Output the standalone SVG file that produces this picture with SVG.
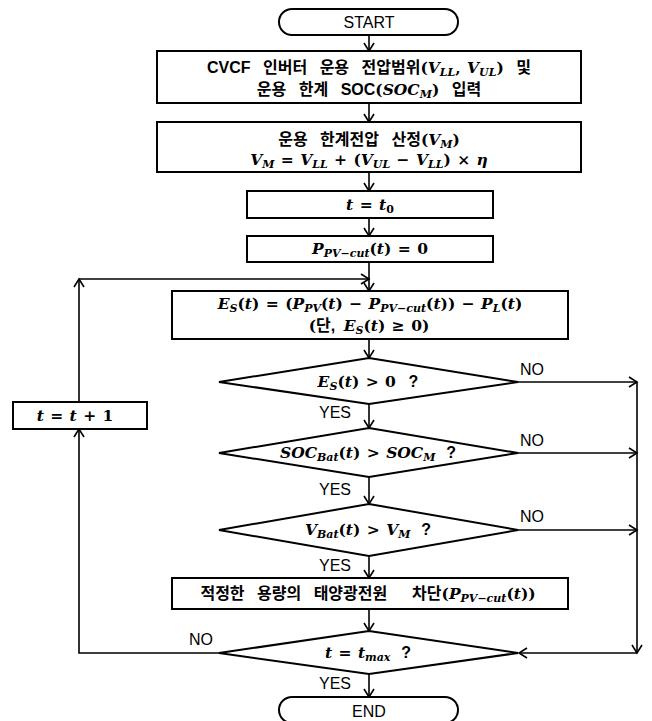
<svg xmlns="http://www.w3.org/2000/svg" width="652" height="721" viewBox="0 0 652 721">
<style>
.bx{fill:#fff;stroke:#000;stroke-width:2}
.ln{fill:none;stroke:#000;stroke-width:1.6}
.arr{marker-end:url(#ah)}
.kr{font-family:"Liberation Sans","Noto Sans CJK KR",sans-serif;font-weight:bold;font-size:16px;word-spacing:8px;fill:#000}
.lb{font-family:"Liberation Sans",Arial,sans-serif;font-size:16px;fill:#000}
.m{font-family:"DejaVu Serif","Liberation Serif",serif;font-weight:bold;font-size:15.5px;font-style:normal;word-spacing:1px}
.i{font-style:italic}
.s{font-size:11px;font-style:italic}
.up{font-style:normal}
.q{font-family:"Liberation Sans",Arial,sans-serif;font-weight:bold;font-size:16px}
</style>
<defs>
<marker id="ah" markerUnits="userSpaceOnUse" markerWidth="14" markerHeight="14" refX="9" refY="6" orient="auto">
<path d="M1,1 L9,6 L1,11" fill="none" stroke="#000" stroke-width="1.6"/>
</marker>
</defs>
<rect width="652" height="721" fill="#fff"/>

<g id="connectors">
<path class="ln arr" d="M369,35 V51"/>
<path class="ln arr" d="M369,103 V122"/>
<path class="ln arr" d="M369,172 V191"/>
<path class="ln arr" d="M369,218 V236"/>
<path class="ln arr" d="M369,262 V291"/>
<path class="ln arr" d="M369,339 V358"/>
<path class="ln arr" d="M369,404 V428"/>
<path class="ln arr" d="M369,477 V504"/>
<path class="ln arr" d="M369,556 V578"/>
<path class="ln arr" d="M369,609 V631"/>
<path class="ln arr" d="M369,674 V697"/>
<path class="ln arr" d="M518,382 H637"/>
<path class="ln arr" d="M518,453 H637"/>
<path class="ln arr" d="M518,530 H637"/>
<path class="ln arr" d="M637,382 V653"/>
<path class="ln arr" d="M637,653 H519"/>
<path class="ln arr" d="M219,653 H79 V429"/>
<path class="ln arr" d="M79,402 V279"/>
<path class="ln arr" d="M79,279 H369"/>
</g>

<g id="start">
<rect class="bx" x="279" y="9" width="179" height="26" rx="13"/>
<text class="lb" x="369" y="28" text-anchor="middle" font-size="17">START</text>
</g>

<g id="input">
<rect class="bx" x="157" y="51" width="424" height="52"/>
<text class="kr" x="369" y="73" text-anchor="middle">CVCF 인버터 운용 전압범위<tspan class="m">(</tspan><tspan class="m i">V</tspan><tspan class="m s" dy="3">LL</tspan><tspan class="m" dy="-3">, </tspan><tspan class="m i">V</tspan><tspan class="m s" dy="3">UL</tspan><tspan class="m" dy="-3">)</tspan> 및</text>
<text class="kr" x="369" y="95" text-anchor="middle">운용 한계 SOC<tspan class="m">(</tspan><tspan class="m i">SOC</tspan><tspan class="m s" dy="3">M</tspan><tspan class="m" dy="-3">)</tspan> 입력</text>
</g>

<g id="vm">
<rect class="bx" x="157" y="122" width="424" height="50"/>
<text class="kr" x="369" y="145" text-anchor="middle">운용 한계전압 산정<tspan class="m">(</tspan><tspan class="m i">V</tspan><tspan class="m s" dy="3">M</tspan><tspan class="m" dy="-3">)</tspan></text>
<text class="m" x="369" y="165" text-anchor="middle"><tspan class="i">V</tspan><tspan class="s" dy="3">M</tspan><tspan dy="-3"> = </tspan><tspan class="i">V</tspan><tspan class="s" dy="3">LL</tspan><tspan dy="-3"> + (</tspan><tspan class="i">V</tspan><tspan class="s" dy="3">UL</tspan><tspan dy="-3"> − </tspan><tspan class="i">V</tspan><tspan class="s" dy="3">LL</tspan><tspan dy="-3">) × </tspan><tspan class="i">η</tspan></text>
</g>

<g id="t0">
<rect class="bx" x="247" y="191" width="246" height="27"/>
<text class="m" x="370" y="210" text-anchor="middle"><tspan class="i">t</tspan> = <tspan class="i">t</tspan><tspan class="s up" dy="3">0</tspan></text>
</g>

<g id="pcut0">
<rect class="bx" x="247" y="236" width="246" height="26"/>
<text class="m" x="370" y="254" text-anchor="middle"><tspan class="i">P</tspan><tspan class="s" dy="3">PV−cut</tspan><tspan dy="-3">(</tspan><tspan class="i">t</tspan>) = 0</text>
</g>

<g id="es">
<rect class="bx" x="172" y="291" width="396" height="48"/>
<text class="m" x="370" y="309" text-anchor="middle"><tspan class="i">E</tspan><tspan class="s" dy="3">S</tspan><tspan dy="-3">(</tspan><tspan class="i">t</tspan>) = (<tspan class="i">P</tspan><tspan class="s" dy="3">PV</tspan><tspan dy="-3">(</tspan><tspan class="i">t</tspan>) − <tspan class="i">P</tspan><tspan class="s" dy="3">PV−cut</tspan><tspan dy="-3">(</tspan><tspan class="i">t</tspan>)) − <tspan class="i">P</tspan><tspan class="s" dy="3">L</tspan><tspan dy="-3">(</tspan><tspan class="i">t</tspan>)</text>
<text class="m" x="369" y="331" text-anchor="middle">(<tspan class="kr" style="word-spacing:4px">단, </tspan><tspan class="i">E</tspan><tspan class="s" dy="3">S</tspan><tspan dy="-3">(</tspan><tspan class="i">t</tspan>) ≥ 0)</text>
</g>

<g id="d1">
<polygon class="bx" points="369,358 518,382 369,404 219,382"/>
<text class="m" x="368" y="387" text-anchor="middle"><tspan class="i">E</tspan><tspan class="s" dy="3">S</tspan><tspan dy="-3">(</tspan><tspan class="i">t</tspan>) &gt; 0&#160;&#160;<tspan class="q">?</tspan></text>
</g>

<g id="d2">
<polygon class="bx" points="369,428 518,453 369,477 219,453"/>
<text class="m" x="368" y="458" text-anchor="middle"><tspan class="i">SOC</tspan><tspan class="s" dy="3">Bat</tspan><tspan dy="-3">(</tspan><tspan class="i">t</tspan>) &gt; <tspan class="i">SOC</tspan><tspan class="s" dy="3">M</tspan><tspan class="q" dy="-3">&#160;&#160;?</tspan></text>
</g>

<g id="d3">
<polygon class="bx" points="369,504 518,530 369,556 219,530"/>
<text class="m" x="368" y="535" text-anchor="middle"><tspan class="i">V</tspan><tspan class="s" dy="3">Bat</tspan><tspan dy="-3">(</tspan><tspan class="i">t</tspan>) &gt; <tspan class="i">V</tspan><tspan class="s" dy="3">M</tspan><tspan class="q" dy="-3">&#160;&#160;?</tspan></text>
</g>

<g id="cut">
<rect class="bx" x="172" y="578" width="396" height="31"/>
<text class="kr" x="368" y="599" text-anchor="middle">적정한 용량의 태양광전원&#160; 차단<tspan class="m">(</tspan><tspan class="m i">P</tspan><tspan class="m s" dy="3">PV−cut</tspan><tspan class="m" dy="-3">(</tspan><tspan class="m i">t</tspan><tspan class="m">))</tspan></text>
</g>

<g id="d4">
<polygon class="bx" points="369,631 518,653 369,674 219,653"/>
<text class="m" x="368" y="658" text-anchor="middle"><tspan class="i">t</tspan> = <tspan class="i">t</tspan><tspan class="s" dy="3">max</tspan><tspan class="q" dy="-3">&#160;&#160;?</tspan></text>
</g>

<g id="inc">
<rect class="bx" x="13" y="402" width="134" height="27"/>
<text class="m" x="75" y="421" text-anchor="middle"><tspan class="i">t</tspan> = <tspan class="i">t</tspan> + 1</text>
</g>

<g id="end">
<rect class="bx" x="279" y="697" width="179" height="26" rx="13"/>
<text class="lb" x="369" y="717" text-anchor="middle" font-size="17">END</text>
</g>

<g id="labels" class="lb">
<text x="520" y="375">NO</text>
<text x="520" y="446">NO</text>
<text x="520" y="522">NO</text>
<text x="319" y="418">YES</text>
<text x="319" y="495">YES</text>
<text x="319" y="571">YES</text>
<text x="319" y="689">YES</text>
<text x="189" y="645">NO</text>
</g>
</svg>
